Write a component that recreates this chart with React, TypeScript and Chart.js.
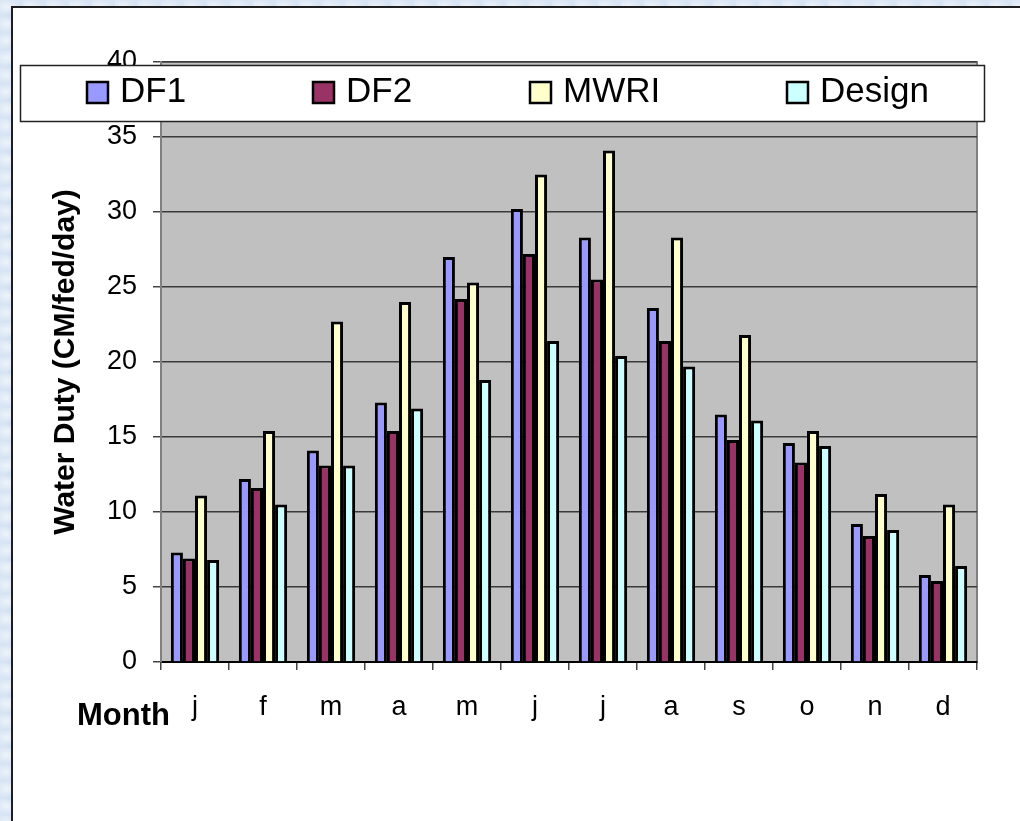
import React, { useEffect, useRef } from "react";
import { Chart, registerables } from "chart.js";

Chart.register(...registerables);

const months = ["j", "f", "m", "a", "m", "j", "j", "a", "s", "o", "n", "d"];
const df1 = [7.3, 12.2, 14.1, 17.3, 27.0, 30.2, 28.3, 23.6, 16.5, 14.6, 9.2, 5.8];
const df2 = [6.9, 11.6, 13.1, 15.4, 24.2, 27.2, 25.5, 21.4, 14.8, 13.3, 8.4, 5.4];
const mwri = [11.1, 15.4, 22.7, 24.0, 25.3, 32.5, 34.1, 28.3, 21.8, 15.4, 11.2, 10.5];
const design = [6.8, 10.5, 13.1, 16.9, 18.8, 21.4, 20.4, 19.7, 16.1, 14.4, 8.8, 6.4];
const seriesNames = ["DF1", "DF2", "MWRI", "Design"];
const seriesColors = ["#9999FF", "#993366", "#FFFFCC", "#CCFFFF"];
const yMin = 0;
const yMax = 40;
const yStep = 5;
const yTitle = "Water Duty (CM/fed/day)";
const xTitle = "Month";

const FONT = "'Liberation Sans', Arial, sans-serif";

const decorPlugin = {
  id: "decor",
  beforeDraw(chart: any) {
    const { ctx, chartArea } = chart;
    const { left, top, right, bottom } = chartArea;
    ctx.save();
    ctx.fillStyle = "#C0C0C0";
    ctx.fillRect(left, top, right - left, bottom - top);
    ctx.strokeStyle = "#808080";
    ctx.lineWidth = 2;
    ctx.strokeRect(left, top, right - left, bottom - top);
    ctx.restore();
  },
  afterDraw(chart: any) {
    const { ctx } = chart;
    ctx.save();
    // Legend box
    const lx = 20, ly = 65, lw = 965, lh = 57;
    ctx.fillStyle = "#FFFFFF";
    ctx.fillRect(lx, ly, lw, lh);
    ctx.strokeStyle = "#222";
    ctx.lineWidth = 1.5;
    ctx.strokeRect(lx + 0.5, ly + 0.5, lw - 1, lh - 1);
    const itemX = [87, 313, 530, 787];
    chart.data.datasets.forEach((ds: any, i: number) => {
      const x = itemX[i];
      ctx.fillStyle = ds.backgroundColor;
      ctx.fillRect(x, 82, 21, 21);
      ctx.strokeStyle = "#000";
      ctx.lineWidth = 2.5;
      ctx.strokeRect(x, 82, 21, 21);
      ctx.fillStyle = "#000";
      ctx.font = `35px ${FONT}`;
      ctx.textAlign = "left";
      ctx.textBaseline = "alphabetic";
      ctx.fillText(ds.label, x + 33, 102);
    });
    // x axis title
    ctx.font = `bold 31px ${FONT}`;
    ctx.fillStyle = "#000";
    ctx.textAlign = "left";
    ctx.textBaseline = "alphabetic";
    ctx.fillText(xTitle, 77, 725);
    ctx.restore();
  },
};

export default function App() {
  const ref = useRef<HTMLCanvasElement | null>(null);

  useEffect(() => {
    if (!ref.current) return;
    const data = [df1, df2, mwri, design];
    const chart = new Chart(ref.current, {
      type: "bar",
      data: {
        labels: months,
        datasets: seriesNames.map((name, i) => ({
          label: name,
          data: data[i],
          backgroundColor: seriesColors[i],
          borderColor: "#000000",
          borderWidth: 3,
          borderSkipped: "start",
          categoryPercentage: 0.71,
          barPercentage: 1.0,
        })),
      },
      options: {
        responsive: false,
        animation: false,
        layout: { padding: { left: 0, top: 62, right: 43, bottom: 0 } },
        plugins: {
          legend: { display: false },
          tooltip: { enabled: false },
        },
        scales: {
          x: {
            offset: true,
            grid: {
              display: true,
              drawOnChartArea: false,
              drawTicks: true,
              tickLength: 8,
              offset: true,
              color: "#444",
              lineWidth: 1.5,
            },
            border: { display: true, color: "#000", width: 2 },
            ticks: {
              color: "#000",
              font: { family: FONT, size: 27 },
              padding: 21,
              maxRotation: 0,
              autoSkip: false,
            },
            afterFit: (scale: any) => {
              scale.height = 159;
            },
          },
          y: {
            min: yMin,
            max: yMax,
            ticks: {
              stepSize: yStep,
              color: "#000",
              font: { family: FONT, size: 27 },
              padding: 16,
            },
            grid: {
              color: "#3a3a3a",
              lineWidth: 1.5,
              tickLength: 8,
              tickColor: "#444",
            },
            border: { display: true, color: "#808080", width: 2 },
            title: {
              display: true,
              text: yTitle,
              color: "#000",
              font: { family: FONT, size: 30, weight: "bold" },
              padding: { top: 48, bottom: 0 },
            },
            afterFit: (scale: any) => {
              scale.width = 161;
            },
          },
        },
      },
      plugins: [decorPlugin],
    });
    return () => chart.destroy();
  }, []);

  return (
    <div
      style={{
        position: "fixed",
        left: 0,
        top: 0,
        width: 1020,
        height: 821,
        overflow: "hidden",
        backgroundColor: "#d6e4f3",
        backgroundImage:
          "radial-gradient(ellipse at 30% 40%, rgba(255,255,255,0.55), rgba(255,255,255,0) 60%), radial-gradient(ellipse at 70% 60%, rgba(170,196,226,0.5), rgba(170,196,226,0) 55%)",
        backgroundSize: "23px 17px, 31px 27px",
      }}
    >
      <div
        style={{
          position: "absolute",
          left: 11,
          top: 6,
          width: 1040,
          height: 840,
          background: "#ffffff",
          border: "2px solid #1e1e1e",
        }}
      />
      <canvas
        ref={ref}
        width={1020}
        height={821}
        style={{ position: "absolute", left: 0, top: 0, width: 1020, height: 821 }}
      />
    </div>
  );
}
